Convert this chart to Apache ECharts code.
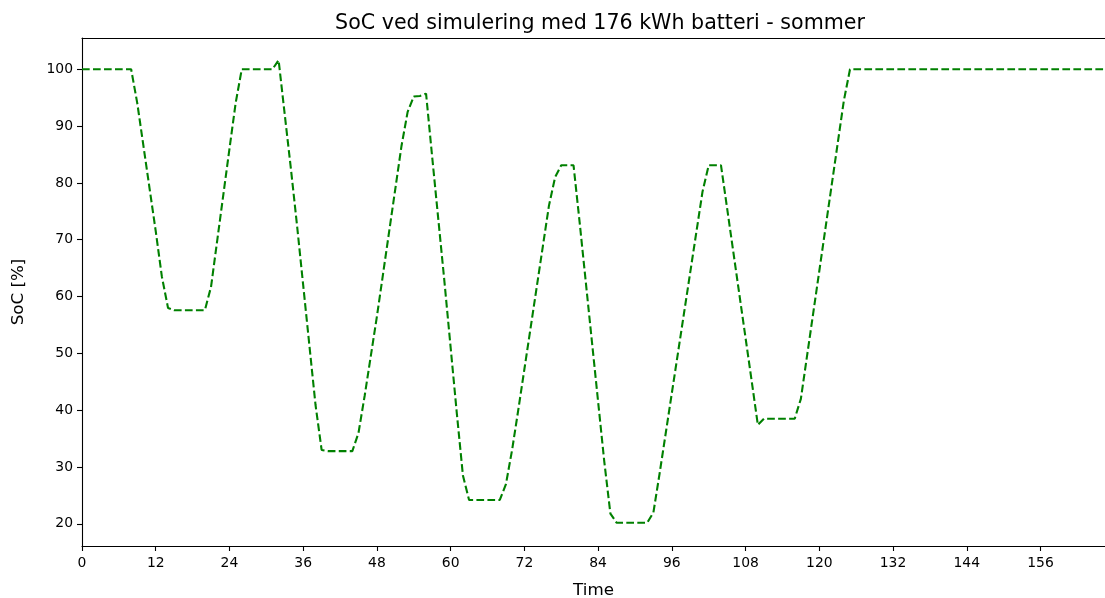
<!DOCTYPE html>
<html>
<head>
<meta charset="utf-8">
<title>SoC ved simulering med 176 kWh batteri - sommer</title>
<script src="https://cdn.jsdelivr.net/npm/echarts@6/dist/echarts.min.js"></script>
<style>
  html, body { margin: 0; padding: 0; background: #fff; }
  #chart { width: 1105px; height: 598px; }
</style>
</head>
<body>
<div id="chart"></div>
<script>
// Hourly state of charge [%] over one summer week (hour 0..167)
const socValues = [
  100, 100, 100, 100, 100, 100, 100, 100, 100,
  94, 86.5, 79, 71.5, 63.5, 58,
  57.6, 57.6, 57.6, 57.6, 57.6, 57.6,
  61.7, 69.8, 77.9, 86, 94,
  100, 100, 100, 100, 100, 100,
  101.6,
  92, 82.5, 72.5, 62, 51.5, 41,
  33.0, 32.8, 32.8, 32.8, 32.8, 32.8,
  36, 42.5, 49.5, 56.5, 64, 71.5, 79, 86.5, 92.5,
  95.2, 95.3, 95.7,
  84.5, 73.5, 62.5, 51, 39.5, 28.5,
  24.2, 24.2, 24.2, 24.2, 24.2, 24.2,
  27, 33, 40, 47.2, 54.4, 61.6, 68.8, 76, 81,
  83.1, 83.1, 83.1,
  73, 62.5, 52, 41.5, 31, 21.8,
  20.2, 20.2, 20.2, 20.2, 20.2, 20.2,
  22, 28.8, 35.9, 43, 50.1, 57.2, 64.3, 71.4, 78.5,
  83.1, 83.1, 83.1,
  75.5, 67.9, 60.3, 52.7, 45.1, 37.4,
  38.5, 38.5, 38.5, 38.5, 38.5, 38.5,
  42, 49.5, 57, 64.5, 72, 79.5, 87, 94.5,
  100, 100, 100, 100, 100, 100, 100, 100, 100, 100,
  100, 100, 100, 100, 100, 100, 100, 100, 100, 100,
  100, 100, 100, 100, 100, 100, 100, 100, 100, 100,
  100, 100, 100, 100, 100, 100, 100, 100, 100, 100,
  100, 100, 100
];

const xTickValues = [0, 12, 24, 36, 48, 60, 72, 84, 96, 108, 120, 132, 144, 156];
const yTickValues = [20, 30, 40, 50, 60, 70, 80, 90, 100];

const FONT = 'DejaVu Sans';
const axisColor = '#000';

const chart = echarts.init(document.getElementById('chart'), null, { renderer: 'canvas' });

const baseAxisLine = { show: true, onZero: false, lineStyle: { color: axisColor, width: 1.1 } };
const tickLabelStyle = { color: axisColor, fontFamily: FONT, fontSize: 13.9 };
const axisNameStyle = { color: axisColor, fontFamily: FONT, fontSize: 16.7 };

chart.setOption({
  animation: false,
  backgroundColor: '#fff',
  title: {
    text: 'SoC ved simulering med 176 kWh batteri - sommer',
    left: 595,
    top: 8,
    textAlign: 'center',
    textStyle: { fontFamily: FONT, fontSize: 20.6, fontWeight: 'normal', color: axisColor }
  },
  grid: { left: 82, right: 0, top: 38, bottom: 52, containLabel: false, outerBoundsMode: 'none' },
  xAxis: [
    {
      type: 'value',
      min: 0,
      max: 166.5,
      name: 'Time',
      nameLocation: 'middle',
      nameGap: 36,
      nameTextStyle: axisNameStyle,
      axisLine: baseAxisLine,
      axisTick: { show: true, length: 5, customValues: xTickValues, lineStyle: { color: axisColor, width: 1.1 } },
      axisLabel: { customValues: xTickValues, margin: 10, ...tickLabelStyle },
      splitLine: { show: false }
    },
    {
      type: 'value',
      position: 'top',
      min: 0,
      max: 166.5,
      axisLine: baseAxisLine,
      axisTick: { show: false },
      axisLabel: { show: false },
      splitLine: { show: false }
    }
  ],
  yAxis: {
    type: 'value',
    min: 16.1,
    max: 105.5,
    name: 'SoC [%]',
    nameLocation: 'middle',
    nameGap: 55,
    nameRotate: 90,
    nameTextStyle: axisNameStyle,
    axisLine: baseAxisLine,
    axisTick: { show: true, length: 5, customValues: yTickValues, lineStyle: { color: axisColor, width: 1.1 } },
    axisLabel: { customValues: yTickValues, margin: 9, ...tickLabelStyle },
    splitLine: { show: false }
  },
  series: [
    {
      type: 'line',
      xAxisIndex: 0,
      yAxisIndex: 0,
      data: socValues.map((v, i) => [i, v]),
      symbol: 'none',
      clip: true,
      lineStyle: { color: '#008000', width: 2.1, type: [7.7, 3.3] }
    }
  ]
});
</script>
</body>
</html>
